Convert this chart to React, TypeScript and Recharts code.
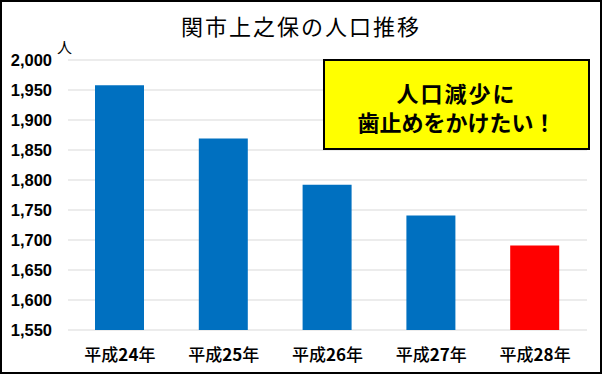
import { BarChart, Bar, XAxis, YAxis, CartesianGrid, Cell } from 'recharts'

const years = ['平成24年', '平成25年', '平成26年', '平成27年', '平成28年']
const population = [1958, 1869, 1792, 1741, 1691]
const barColors = ['#0070C0', '#0070C0', '#0070C0', '#0070C0', '#FF0000']
const yTicks = [1550, 1600, 1650, 1700, 1750, 1800, 1850, 1900, 1950, 2000]

const chartTitle = '関市上之保の人口推移'
const unitLabel = '人'
const calloutLines = ['人口減少に', '歯止めをかけたい！']

const data = years.map((year, i) => ({ year, value: population[i] }))

const jpFont = "'Noto Sans CJK JP', sans-serif"

// kanji in regular weight, the year digits in bold, as in the original
function YearTick({ x, y, payload }: any) {
  const parts = String(payload.value).split(/(\d+)/).filter(Boolean)
  return (
    <text x={x} y={y} dy="0.71em" textAnchor="middle" fill="#000" fontSize={17} fontFamily={jpFont}>
      {parts.map((p, i) => (
        <tspan key={i} fontWeight={/\d/.test(p) ? 700 : 500}>
          {p}
        </tspan>
      ))}
    </text>
  )
}

export default function App() {
  return (
    <div
      style={{
        position: 'fixed',
        left: 0,
        top: 0,
        width: 602,
        height: 374,
        background: '#fff',
        fontFamily: jpFont,
      }}
    >
      <BarChart
        width={602}
        height={374}
        data={data}
        margin={{ top: 60, right: 15, bottom: 0, left: 0 }}
      >
        <CartesianGrid stroke="#d9d9d9" vertical={false} />
        <XAxis
          dataKey="year"
          height={44}
          axisLine={false}
          tickLine={false}
          tickMargin={13}
          tick={<YearTick />}
        />
        <YAxis
          width={68}
          domain={[1550, 2000]}
          ticks={yTicks}
          allowDataOverflow
          axisLine={false}
          tickLine={false}
          tickMargin={10}
          tickFormatter={(v: number) => v.toLocaleString('en-US')}
          tick={{ fill: '#000', fontSize: 16.5, fontWeight: 700, fontFamily: "'Liberation Sans', sans-serif" }}
        />
        <Bar dataKey="value" barSize={49} isAnimationActive={false}>
          {data.map((d, i) => (
            <Cell key={d.year} fill={barColors[i]} />
          ))}
        </Bar>
      </BarChart>

      <div
        style={{
          position: 'absolute',
          left: 0,
          top: 14,
          width: 602,
          textAlign: 'center',
          fontSize: 22,
          lineHeight: '22px',
          letterSpacing: 2,
          color: '#000',
        }}
      >
        {chartTitle}
      </div>

      <div
        style={{
          position: 'absolute',
          left: 57,
          top: 39,
          fontSize: 15,
          lineHeight: '15px',
          color: '#000',
        }}
      >
        {unitLabel}
      </div>

      <div
        style={{
          position: 'absolute',
          left: 323,
          top: 59,
          width: 267,
          height: 91,
          boxSizing: 'border-box',
          border: '2px solid #000',
          background: '#FFFF00',
          display: 'flex',
          flexDirection: 'column',
          alignItems: 'center',
          justifyContent: 'center',
          paddingTop: 5,
          fontSize: 22,
          fontWeight: 700,
          lineHeight: '29px',
          color: '#000',
        }}
      >
        <div style={{ letterSpacing: 2 }}>{calloutLines[0]}</div>
        <div>{calloutLines[1]}</div>
      </div>

      <div
        style={{
          position: 'absolute',
          left: 0,
          top: 0,
          width: 602,
          height: 374,
          boxSizing: 'border-box',
          border: '2px solid #000',
          pointerEvents: 'none',
        }}
      />
    </div>
  )
}
